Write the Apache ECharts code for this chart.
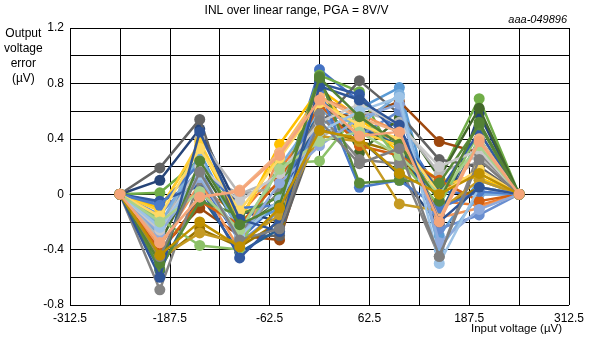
<!DOCTYPE html>
<html>
<head>
<meta charset="utf-8">
<script src="https://cdn.jsdelivr.net/npm/echarts@6/dist/echarts.min.js"></script>
<style>
html,body{margin:0;padding:0;background:#fff;}
#chart{width:593px;height:338px;}
</style>
</head>
<body>
<div id="chart"></div>
<script>
// Input voltage (µV)
const inputVoltage = [-250, -200, -150, -100, -50, 0, 50, 100, 150, 200, 250];
// Output voltage error (µV) per device, values at x = -200 .. 200 (ends are 0)
const s01 = [-0.06, 0.10, -0.33, -0.05, 0.90, 0.67, 0.47, 0.02, 0.00];
const s02 = [-0.25, 0.05, -0.15, 0.18, 0.55, 0.45, 0.40, -0.05, -0.08];
const s03 = [-0.20, 0.15, 0.00, 0.05, 0.45, 0.50, 0.35, 0.05, 0.25];
const s04 = [-0.10, 0.35, -0.20, 0.36, 0.76, 0.55, 0.30, 0.10, 0.12];
const s05 = [-0.30, 0.30, -0.25, -0.10, 0.50, 0.62, 0.77, -0.30, 0.10];
const s06 = [0.01, 0.25, -0.20, 0.00, 0.86, 0.74, 0.20, 0.12, 0.69];
const s07 = [0.10, 0.47, -0.12, -0.20, 0.62, 0.40, 0.14, -0.22, 0.58];
const s08 = [-0.40, -0.10, -0.30, -0.33, 0.60, 0.55, 0.67, 0.38, 0.30];
const s09 = [0.19, 0.54, -0.30, -0.30, 0.50, 0.82, 0.58, 0.25, 0.20];
const s10 = [-0.48, -0.25, -0.38, -0.20, 0.48, 0.38, 0.30, -0.10, 0.05];
const s11 = [-0.55, 0.00, -0.42, -0.25, 0.68, 0.48, 0.35, -0.15, 0.40];
const s12 = [-0.35, 0.20, -0.25, -0.05, 0.82, 0.30, 0.55, 0.12, 0.62];
const s13 = [-0.15, 0.18, -0.35, -0.12, 0.55, 0.42, 0.60, -0.25, -0.15];
const s14 = [-0.38, 0.08, -0.40, 0.28, 0.70, 0.58, 0.45, -0.17, -0.10];
const s15 = [-0.32, 0.40, 0.00, 0.12, 0.40, 0.60, 0.52, 0.15, 0.28];
const s16 = [-0.12, 0.38, -0.18, 0.30, 0.72, 0.45, 0.35, 0.05, 0.15];
const s17 = [-0.22, 0.28, -0.28, 0.20, 0.60, 0.50, 0.72, -0.40, 0.00];
const s18 = [-0.18, -0.37, -0.40, 0.22, 0.24, 0.60, 0.25, -0.08, 0.45];
const s19 = [-0.05, 0.06, -0.46, -0.18, 0.80, 0.72, 0.42, 0.02, 0.45];
const s20 = [-0.42, -0.05, -0.22, 0.10, 0.65, 0.35, 0.28, 0.10, -0.05];
const s21 = [-0.69, 0.10, -0.28, 0.02, 0.58, 0.25, 0.22, -0.45, 0.30];
const s22 = [-0.46, -0.28, -0.35, -0.15, 0.42, 0.38, -0.07, -0.12, 0.10];
const s23 = [-0.08, 0.22, -0.10, -0.08, 0.75, 0.05, 0.10, -0.10, 0.02];
const s24 = [-0.54, -0.05, -0.15, -0.02, 0.85, 0.08, 0.10, 0.08, 0.50];
const s25 = [-0.28, 0.12, -0.32, 0.08, 0.35, 0.55, 0.65, -0.35, -0.11];
const s26 = [-0.35, -0.02, 0.03, 0.30, 0.70, 0.55, 0.45, -0.18, 0.40];
const s27 = [-0.26, 0.20, -0.05, 0.15, 0.52, 0.65, 0.50, 0.20, 0.32];
const s28 = [-0.16, 0.33, -0.12, 0.26, 0.66, 0.50, 0.40, 0.00, 0.18];
const s29 = [-0.24, 0.14, -0.30, -0.04, 0.45, 0.60, 0.70, -0.50, 0.05];
const s30 = [-0.20, 0.02, -0.26, 0.18, 0.38, 0.45, 0.28, 0.00, 0.35];
const s31 = [-0.60, 0.45, -0.18, -0.27, 0.78, 0.68, 0.50, -0.20, 0.05];
const s32 = [-0.50, 0.24, -0.22, -0.08, 0.84, 0.56, 0.36, -0.05, 0.52];
const s33 = [-0.45, 0.16, -0.33, -0.25, 0.53, 0.22, 0.33, -0.45, 0.25];
const s34 = [-0.44, -0.20, -0.38, -0.10, 0.46, 0.40, 0.15, 0.00, 0.15];
const s35 = [-0.35, -0.02, 0.02, 0.28, 0.68, 0.42, 0.45, -0.20, 0.38];
const curves = [s01,s02,s03,s04,s05,s06,s07,s08,s09,s10,s11,s12,s13,s14,s15,s16,s17,s18,s19,s20,s21,s22,s23,s24,s25,s26,s27,s28,s29,s30,s31,s32,s33,s34,s35];
const colors = ['#4472C4','#ED7D31','#A5A5A5','#FFC000','#5B9BD5','#70AD47','#264478','#9E480E','#636363','#997300',
  '#255E91','#43682B','#698ED0','#F1975A','#B7B7B7','#FFCD33','#7CAFDD','#8CC168','#335AA1','#D26012',
  '#848484','#C59A22','#4B7BC9','#5A8A39','#8FAADC','#F4B183','#C9C9C9','#FFD966','#9DC3E6','#A9D18E',
  '#2F5597','#548235','#7F7F7F','#BF9000','#F4A57A'];
const xTickLabels = ['-312.5','-187.5','-62.5','62.5','187.5','312.5'];
const yTickLabels = ['-0.8','-0.4','0','0.4','0.8','1.2'];

const FONT = 'Liberation Sans, Arial, sans-serif';
const chart = echarts.init(document.getElementById('chart'), null, {renderer:'canvas'});

const series = curves.map((c, i) => {
  const vals = [0].concat(c, [0]);
  return {
    type: 'line',
    data: inputVoltage.map((x, k) => [x, vals[k]]),
    symbol: 'circle',
    symbolSize: 11,
    showSymbol: true,
    lineStyle: {width: 2.5, color: colors[i]},
    itemStyle: {color: colors[i]},
    animation: false,
    silent: true,
    z: 2 + i
  };
});

function near(a, b){ return Math.abs(a - b) < 1e-6; }

chart.setOption({
  animation: false,
  grid: {left: 70, right: 24, top: 28, bottom: 33, containLabel: false},
  xAxis: {
    type: 'value', min: -312.5, max: 312.5, interval: 62.5,
    axisLine: {show: true, lineStyle: {color: '#000', width: 1}},
    axisTick: {show: false},
    splitLine: {show: true, lineStyle: {color: '#000', width: 1}},
    axisLabel: {
      color: '#000', fontFamily: FONT, fontSize: 12, margin: 8,
      formatter: v => { const s = xTickLabels.find(t => near(parseFloat(t), v)); return s || ''; }
    }
  },
  yAxis: {
    type: 'value', min: -0.8, max: 1.2, interval: 0.2,
    axisLine: {show: true, lineStyle: {color: '#000', width: 1}},
    axisTick: {show: false},
    splitLine: {show: true, lineStyle: {color: '#000', width: 1}},
    axisLabel: {
      color: '#000', fontFamily: FONT, fontSize: 12, margin: 6,
      formatter: v => { const s = yTickLabels.find(t => near(parseFloat(t), v)); return s || ''; }
    }
  },
  graphic: [
    {type:'text', left: 'center', top: 5, style:{text:'INL over linear range, PGA = 8V/V', font:'12px ' + FONT, fill:'#000'}, z: 100},
    {type:'text', right: 26, top: 14, style:{text:'aaa-049896', font:'italic 11px ' + FONT, fill:'#000'}, z: 100},
    {type:'text', left: 4, top: 26, style:{text:'Output\nvoltage\nerror\n(µV)', font:'12px ' + FONT, fill:'#000', textAlign:'center', lineHeight: 15, x: 24}, z: 100},
    {type:'text', left: 471, top: 323, style:{text:'Input voltage (µV)', font:'11.5px ' + FONT, fill:'#000'}, z: 100}
  ],
  series: series
});
</script>
</body>
</html>
